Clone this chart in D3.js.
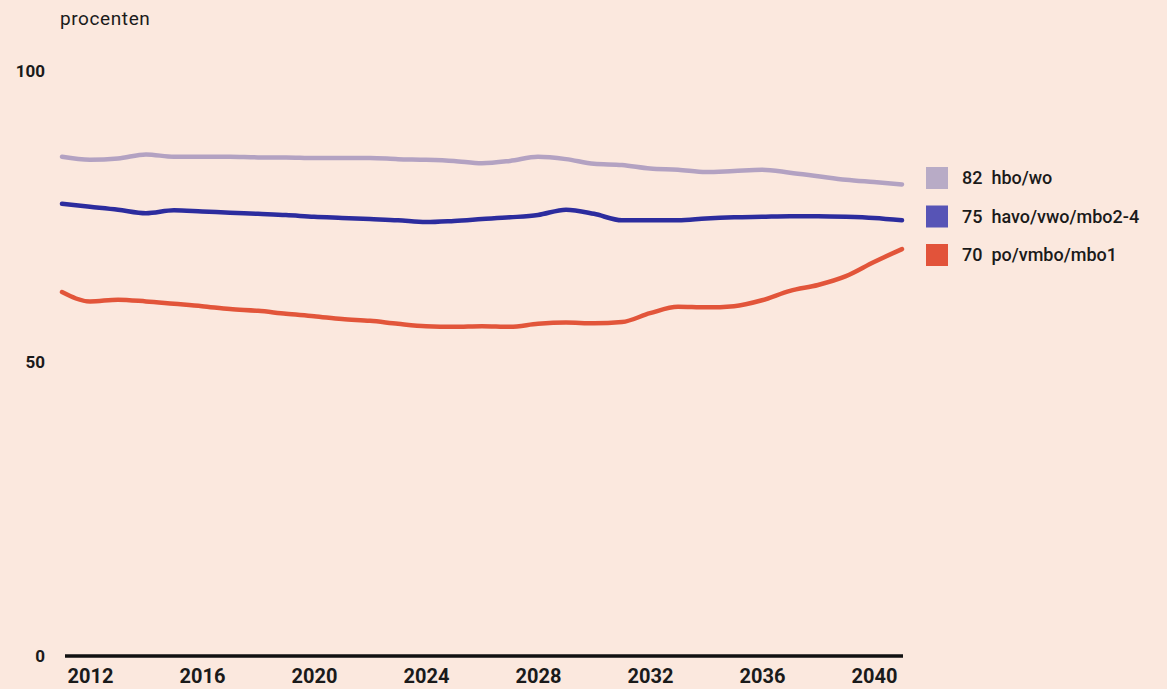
<!DOCTYPE html>
<html>
<head>
<meta charset="utf-8">
<script src="https://cdn.jsdelivr.net/npm/d3@7"></script>
<style>
  html, body { margin: 0; padding: 0; background: #fbe8de; }
  svg { display: block; font-family: Roboto, "DejaVu Sans", sans-serif; }
</style>
</head>
<body>
<div id="chart"></div>
<script>
// years on the x axis
var years = d3.range(2011, 2042);

// percentages, one value per year
var hboWo = [84.9, 84.4, 84.6, 85.3, 84.9, 84.9, 84.9, 84.8, 84.8, 84.7, 84.7, 84.7,
  84.5, 84.4, 84.2, 83.8, 84.2, 84.9, 84.5, 83.7, 83.5, 82.9, 82.7, 82.3,
  82.5, 82.7, 82.2, 81.6, 81.0, 80.6, 80.2];
var havoVwo = [76.9, 76.4, 75.9, 75.3, 75.8, 75.6, 75.4, 75.2, 75.0, 74.7, 74.5, 74.3,
  74.1, 73.8, 74.0, 74.3, 74.6, 75.0, 75.9, 75.2, 74.1, 74.1, 74.1, 74.4,
  74.6, 74.7, 74.8, 74.8, 74.7, 74.5, 74.1];
var poVmbo = [61.9, 60.3, 60.6, 60.3, 59.9, 59.5, 59.0, 58.7, 58.2, 57.8, 57.3, 57.0,
  56.5, 56.1, 56.0, 56.1, 56.0, 56.5, 56.7, 56.6, 56.8, 58.3, 59.4, 59.3,
  59.5, 60.5, 62.1, 63.1, 64.6, 67.0, 69.2];

var seriesNames = ["hbo/wo", "havo/vwo/mbo2-4", "po/vmbo/mbo1"];
var legendValues = [82, 75, 70];
var xTicks = [2012, 2016, 2020, 2024, 2028, 2032, 2036, 2040];
var yTicks = [0, 50, 100];

var lineColors = ["#b3a2c2", "#2c2c9e", "#e2553a"];
var swatchColors = ["#b8abc6", "#5754b6", "#e2533a"];

var width = 1167, height = 689;

var x = d3.scaleLinear().domain([2011, 2041]).range([62, 902]);
var y = d3.scaleLinear().domain([0, 100]).range([656, 68]);

var svg = d3.select("#chart").append("svg")
    .attr("width", width)
    .attr("height", height);

svg.append("rect")
    .attr("width", width)
    .attr("height", height)
    .attr("fill", "#fbe8de");

// unit label
svg.append("text")
    .attr("x", 60)
    .attr("y", 25)
    .attr("font-size", 19)
    .attr("letter-spacing", 0.6)
    .attr("fill", "#1a1a1a")
    .text("procenten");

// y tick labels (no axis line)
svg.selectAll(".ylab")
    .data(yTicks)
  .enter().append("text")
    .attr("class", "ylab")
    .attr("x", 45)
    .attr("y", function(d) { return y(d) + (d == 100 ? 3 : 0); })
    .attr("dy", "0.35em")
    .attr("text-anchor", "end")
    .attr("font-size", 17)
    .attr("font-weight", 700)
    .attr("fill", "#1a1a1a")
    .text(function(d) { return d; });

// x axis
var xAxis = d3.axisBottom(x)
    .tickValues(xTicks)
    .tickFormat(d3.format("d"))
    .tickSize(0)
    .tickPadding(13);

var gx = svg.append("g")
    .attr("transform", "translate(0," + y(0) + ")")
    .call(xAxis);

gx.select(".domain")
    .attr("d", "M65,0H903")
    .attr("stroke", "#111")
    .attr("stroke-width", 3.5);

gx.selectAll("text")
    .attr("font-size", 20)
    .attr("font-weight", 700)
    .attr("font-family", "Roboto, sans-serif")
    .attr("fill", "#1a1a1a");

// the three lines
var series = [hboWo, havoVwo, poVmbo];

var line = d3.line()
    .x(function(d, i) { return x(years[i]); })
    .y(function(d) { return y(d); })
    .curve(d3.curveMonotoneX);

svg.selectAll(".line")
    .data(series)
  .enter().append("path")
    .attr("class", "line")
    .attr("d", line)
    .attr("fill", "none")
    .attr("stroke", function(d, i) { return lineColors[i]; })
    .attr("stroke-width", 4.5)
    .attr("stroke-linecap", "round")
    .attr("stroke-linejoin", "round");

// legend
var legend = svg.selectAll(".legend")
    .data(seriesNames)
  .enter().append("g")
    .attr("class", "legend")
    .attr("transform", function(d, i) { return "translate(926," + (178 + i * 38.5) + ")"; });

legend.append("rect")
    .attr("x", 0)
    .attr("y", -11)
    .attr("width", 22)
    .attr("height", 22)
    .attr("fill", function(d, i) { return swatchColors[i]; });

legend.append("text")
    .attr("x", 36)
    .attr("dy", "0.35em")
    .attr("font-size", 18)
    .attr("font-weight", 500)
    .attr("fill", "#1a1a1a")
    .attr("xml:space", "preserve")
    .text(function(d, i) { return legendValues[i] + "  " + d; });
</script>
</body>
</html>
